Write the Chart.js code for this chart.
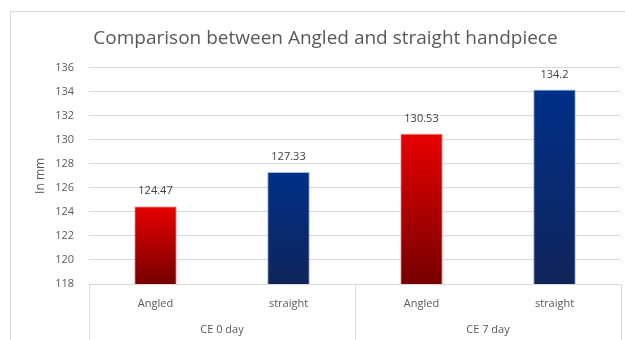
<!DOCTYPE html>
<html>
<head>
<meta charset="utf-8">
<script src="https://cdn.jsdelivr.net/npm/chart.js@4"></script>
<style>
  html,body{margin:0;padding:0;background:#fff;overflow:hidden;}
  #frame{position:absolute;left:10px;top:11px;width:700px;height:400px;border:1px solid #d9d9d9;box-sizing:border-box;}
  #wrap{position:absolute;left:0;top:0;width:625px;height:340px;}
</style>
</head>
<body>
<div id="frame"></div>
<div id="wrap"><canvas id="c" width="625" height="340"></canvas></div>
<script>
const categories = ['Angled', 'straight', 'Angled', 'straight'];
const groups = ['CE 0 day', 'CE 7 day'];
const values = [124.47, 127.33, 130.53, 134.2];
const yMin = 118, yMax = 136, yStep = 2;
const chartTitle = 'Comparison between Angled and straight handpiece';
const yTitle = 'In mm';

const TXT = '#595959';
const GRID = '#d9d9d9';
const FONT = "'Open Sans', sans-serif";

function barGradient(ctx) {
  const chart = ctx.chart;
  const area = chart.chartArea;
  if (!area || ctx.type !== 'data') return '#c00000';
  const y = chart.scales.y;
  const top = y.getPixelForValue(values[ctx.dataIndex]);
  const bottom = y.getPixelForValue(yMin);
  const g = chart.ctx.createLinearGradient(0, top, 0, bottom);
  if (categories[ctx.dataIndex] === 'Angled') {
    g.addColorStop(0, '#e80000');
    g.addColorStop(1, '#760000');
  } else {
    g.addColorStop(0, '#003088');
    g.addColorStop(1, '#10245a');
  }
  return g;
}

const decor = {
  id: 'decor',
  afterDraw(chart) {
    const c = chart.ctx, a = chart.chartArea, x = chart.scales.x;
    const mid = (x.getPixelForValue(1) + x.getPixelForValue(2)) / 2;
    c.save();
    c.strokeStyle = GRID;
    c.lineWidth = 1;
    [a.left, mid, a.right].forEach(px => {
      const xx = Math.round(px) + 0.5;
      c.beginPath();
      c.moveTo(xx, a.bottom);
      c.lineTo(xx, chart.height);
      c.stroke();
    });
    c.fillStyle = '#404040';
    c.font = "11px " + FONT;
    c.textAlign = 'center';
    c.textBaseline = 'middle';
    const meta = chart.getDatasetMeta(0);
    meta.data.forEach((bar, i) => {
      c.fillText(String(values[i]), bar.x, bar.y - 15);
    });
    c.restore();
  }
};

new Chart(document.getElementById('c'), {
  type: 'bar',
  data: {
    labels: categories,
    datasets: [{
      data: values,
      backgroundColor: barGradient,
      borderColor: ctx => categories[ctx.dataIndex] === 'Angled' ? 'rgba(240,120,120,0.6)' : 'rgba(110,140,200,0.6)',
      borderWidth: 1,
      borderSkipped: 'bottom',
      barPercentage: 0.32,
      categoryPercentage: 1.0
    }]
  },
  options: {
    responsive: false,
    animation: false,
    devicePixelRatio: 1,
    layout: { padding: { left: 30, right: 4, top: 27, bottom: 0 } },
    plugins: {
      legend: { display: false },
      tooltip: { enabled: false },
      title: {
        display: true,
        text: chartTitle,
        color: TXT,
        font: { family: FONT, size: 19, weight: 'normal' },
        padding: { top: 0, bottom: 18 }
      }
    },
    scales: {
      x: {
        type: 'category',
        position: 'bottom',
        grid: { display: false, drawTicks: false },
        border: { display: true, color: GRID },
        ticks: { color: TXT, font: { family: FONT, size: 11 }, padding: 13 },
        afterFit(s) { s.height = 30; }
      },
      x2: {
        type: 'category',
        position: 'bottom',
        labels: groups,
        grid: { display: false, drawTicks: false },
        border: { display: false },
        ticks: { color: TXT, font: { family: FONT, size: 11 }, padding: 9 },
        afterFit(s) { s.height = 26; }
      },
      y: {
        min: yMin,
        max: yMax,
        ticks: { stepSize: yStep, color: TXT, font: { family: FONT, size: 11 }, padding: 15 },
        grid: { color: GRID, drawTicks: false },
        border: { display: false },
        title: { display: true, text: yTitle, color: TXT, font: { family: FONT, size: 12 }, padding: { top: 3, bottom: 0 } },
        afterFit(s) { s.width = 59; }
      }
    }
  },
  plugins: [decor]
});
</script>
</body>
</html>
